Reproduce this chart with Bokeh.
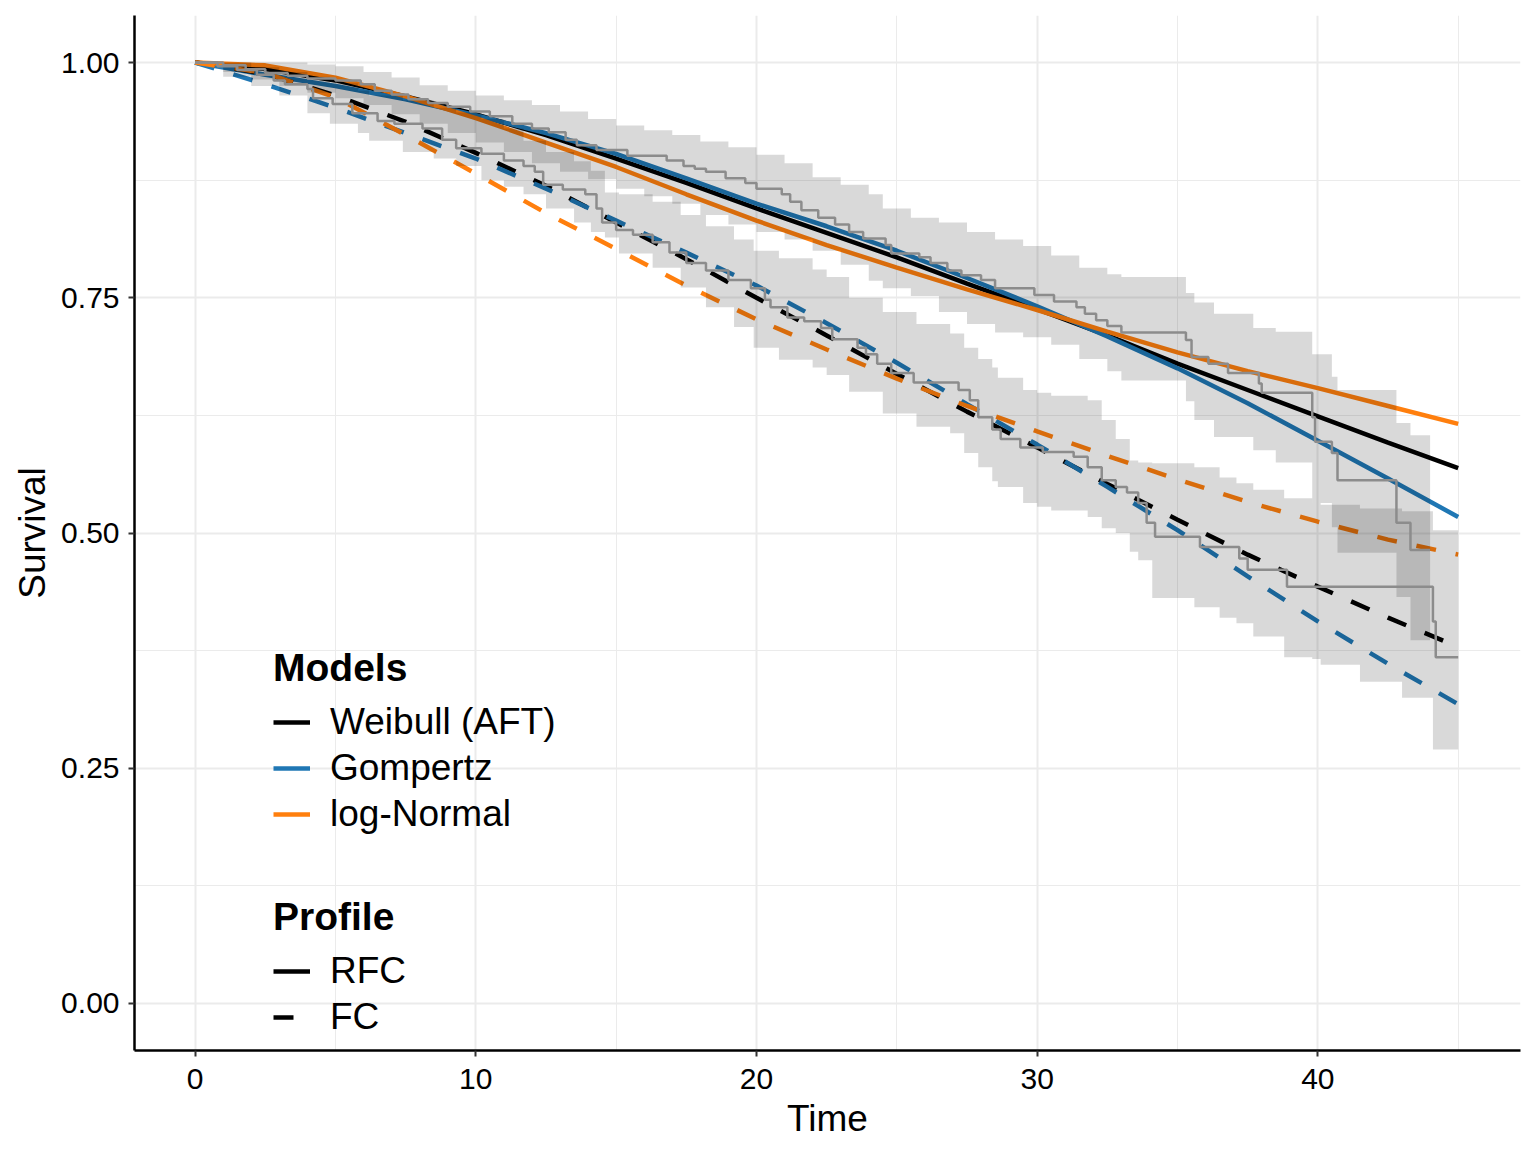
from bokeh.plotting import figure
from bokeh.models import Legend, LegendItem, FixedTicker, Range1d, PrintfTickFormatter
from bokeh.embed import file_html
from bokeh.resources import INLINE

# ---------------- data ----------------
model_time = [0, 2.5, 5, 7.5, 10, 12.5, 15, 17.5, 20, 22.5, 25, 27.5, 30, 32.5, 35, 37.5, 40, 42.5, 45]

weibull_rfc = [1.000, 0.993, 0.981, 0.964, 0.945, 0.923, 0.898, 0.872, 0.845, 0.819, 0.793, 0.765, 0.738, 0.710, 0.680, 0.652, 0.624, 0.596, 0.569]
gompertz_rfc = [1.000, 0.987, 0.975, 0.961, 0.944, 0.925, 0.903, 0.877, 0.850, 0.826, 0.800, 0.771, 0.741, 0.709, 0.675, 0.638, 0.598, 0.558, 0.517]
lognormal_rfc = [1.000, 0.997, 0.984, 0.964, 0.941, 0.915, 0.889, 0.860, 0.832, 0.806, 0.782, 0.759, 0.737, 0.714, 0.692, 0.672, 0.654, 0.635, 0.616]

weibull_fc = [1.000, 0.988, 0.965, 0.937, 0.904, 0.869, 0.830, 0.791, 0.750, 0.710, 0.669, 0.629, 0.591, 0.552, 0.514, 0.477, 0.443, 0.410, 0.379]
gompertz_fc = [1.000, 0.977, 0.952, 0.925, 0.898, 0.866, 0.832, 0.798, 0.763, 0.723, 0.681, 0.637, 0.594, 0.549, 0.503, 0.454, 0.406, 0.361, 0.318]
lognormal_fc = [1.000, 0.989, 0.963, 0.923, 0.882, 0.840, 0.802, 0.763, 0.727, 0.695, 0.664, 0.635, 0.608, 0.582, 0.557, 0.533, 0.512, 0.493, 0.477]

# Kaplan-Meier, RFC profile (step "after")
km_rfc_time = [0, 1.0, 1.8, 2.5, 3.3, 4.0, 5.0, 5.9, 6.4, 7.0, 7.6, 8.3, 9.0, 9.8, 10.5, 11.3, 12.0, 12.6,
               13.2, 13.6, 14.3, 15.4, 16.8, 17.4, 17.8, 18.2, 18.9, 19.6, 20.0, 20.9, 21.2, 21.6, 22.2,
               22.8, 23.3, 23.8, 24.6, 24.8, 25.8, 26.2, 26.8, 27.3, 28.0, 28.5, 29.9, 30.6, 31.4, 31.7,
               32.1, 32.5, 33.0, 35.3, 35.5, 36.1, 36.8, 37.9, 38.0, 39.8, 39.9, 40.5, 40.7, 42.8, 43.3, 44.0]
km_rfc_surv = [1.000, 0.997, 0.993, 0.989, 0.986, 0.983, 0.981, 0.977, 0.970, 0.966, 0.961, 0.957, 0.953, 0.948, 0.943, 0.935, 0.930, 0.926,
               0.918, 0.912, 0.907, 0.901, 0.896, 0.890, 0.887, 0.884, 0.877, 0.872, 0.866, 0.860, 0.852, 0.843, 0.835,
               0.828, 0.820, 0.813, 0.806, 0.797, 0.793, 0.787, 0.779, 0.774, 0.769, 0.760, 0.753, 0.746, 0.740, 0.733,
               0.726, 0.720, 0.713, 0.705, 0.687, 0.680, 0.670, 0.659, 0.649, 0.623, 0.597, 0.585, 0.556, 0.511, 0.482, 0.482]

# Kaplan-Meier, FC profile
km_fc_time = [0, 0.8, 1.5, 2.2, 2.8, 3.2, 4.0, 4.2, 4.9, 5.6, 6.5, 7.1, 8.1, 8.8, 9.3, 10.2, 11.0, 11.7, 12.1,
              12.4, 13.1, 13.9, 14.3, 14.5, 15.0, 15.6, 16.3, 16.9, 17.5, 18.2, 19.0, 19.8, 20.3, 20.5, 21.1,
              21.7, 22.3, 22.7, 23.6, 23.9, 24.3, 24.8, 25.6, 27.2, 27.6, 27.9, 28.4, 28.7, 29.4, 30.2, 31.3,
              31.8, 32.3, 32.8, 33.2, 33.6, 33.9, 34.2, 35.8, 37.2, 37.5, 38.9, 44.1, 44.2, 45.0]
km_fc_surv = [1.000, 0.996, 0.992, 0.987, 0.981, 0.977, 0.972, 0.962, 0.956, 0.946, 0.938, 0.935, 0.930, 0.918, 0.909, 0.903, 0.896, 0.890, 0.884,
              0.870, 0.865, 0.860, 0.845, 0.830, 0.822, 0.817, 0.809, 0.798, 0.787, 0.779, 0.769, 0.760, 0.748, 0.740, 0.729,
              0.725, 0.718, 0.706, 0.697, 0.690, 0.680, 0.670, 0.660, 0.652, 0.641, 0.623, 0.610, 0.600, 0.591, 0.586, 0.581,
              0.570, 0.556, 0.549, 0.543, 0.532, 0.511, 0.496, 0.485, 0.473, 0.461, 0.443, 0.406, 0.368, 0.368]

# Confidence bands (step "after")
ci_rfc_time = [0, 1, 2, 3, 4, 5, 6, 7, 8, 9, 10, 11, 12, 13, 14, 15, 16, 17, 18, 19, 20, 21, 22, 23, 24,
               24.5, 25.5, 26.5, 27.5, 28.5, 29.5, 30.5, 31.5, 32.5, 33.0, 35.3, 35.6, 36.3, 37.7, 38.5,
               39.8, 40.5, 40.7, 42.8, 43.3, 44.0]
ci_rfc_lower = [1.000, 0.990, 0.982, 0.975, 0.968, 0.962, 0.955, 0.945, 0.935, 0.925, 0.915, 0.905, 0.893, 0.884, 0.876, 0.866, 0.858, 0.850, 0.838, 0.828, 0.820, 0.812, 0.800, 0.785, 0.768,
                0.760, 0.752, 0.735, 0.722, 0.713, 0.708, 0.700, 0.685, 0.672, 0.662, 0.640, 0.620, 0.602, 0.588, 0.575,
                0.532, 0.506, 0.479, 0.432, 0.386, 0.386]
ci_rfc_upper = [1.000, 1.000, 1.000, 1.000, 0.998, 0.996, 0.990, 0.984, 0.976, 0.970, 0.965, 0.960, 0.955, 0.948, 0.940, 0.933, 0.928, 0.923, 0.916, 0.910, 0.902, 0.893, 0.878, 0.870, 0.860,
                0.845, 0.835, 0.830, 0.820, 0.812, 0.805, 0.795, 0.782, 0.775, 0.772, 0.755, 0.745, 0.733, 0.718, 0.714,
                0.690, 0.666, 0.652, 0.617, 0.604, 0.604]

ci_fc_time = [0, 1, 2, 3, 4, 4.8, 5.8, 6.2, 7.4, 8.5, 9.3, 10.2, 11.0, 11.7, 12.5, 13.5, 14.1, 14.6, 15.1, 16.3,
              17.3, 18.2, 19.2, 19.9, 20.8, 22.0, 22.5, 23.3, 24.5, 25.7, 26.9, 27.4, 27.9, 28.4, 28.6, 29.5,
              30.0, 30.5, 31.8, 32.3, 32.8, 33.3, 33.6, 34.1, 35.6, 36.5, 37.1, 37.7, 38.8, 39.8, 40.1, 41.5,
              43.0, 44.1, 45.0]
ci_fc_lower = [1.000, 0.985, 0.975, 0.965, 0.946, 0.935, 0.925, 0.917, 0.905, 0.898, 0.890, 0.875, 0.868, 0.860, 0.845, 0.830, 0.820, 0.814, 0.797, 0.782,
               0.761, 0.740, 0.719, 0.697, 0.684, 0.676, 0.668, 0.650, 0.627, 0.613, 0.606, 0.585, 0.570, 0.555, 0.549, 0.532,
               0.528, 0.524, 0.517, 0.505, 0.500, 0.480, 0.471, 0.431, 0.421, 0.410, 0.404, 0.390, 0.368, 0.366, 0.360, 0.342,
               0.325, 0.270, 0.270]
ci_fc_upper = [1.000, 1.000, 0.995, 0.990, 0.985, 0.978, 0.970, 0.965, 0.960, 0.952, 0.947, 0.940, 0.930, 0.917, 0.905, 0.895, 0.885, 0.862, 0.860, 0.852,
               0.838, 0.826, 0.812, 0.800, 0.792, 0.780, 0.772, 0.750, 0.735, 0.722, 0.712, 0.697, 0.685, 0.676, 0.665, 0.652,
               0.649, 0.646, 0.641, 0.620, 0.600, 0.577, 0.575, 0.574, 0.570, 0.559, 0.553, 0.546, 0.537, 0.532, 0.530, 0.526,
               0.523, 0.503, 0.503]

x_ticks = [0, 10, 20, 30, 40]
x_minor = [5, 15, 25, 35, 45]
y_ticks = [0.0, 0.25, 0.5, 0.75, 1.0]
y_minor = [0.125, 0.375, 0.625, 0.875]

BLACK = "#000000"
BLUE = "#1F77B4"
ORANGE = "#FF7F0E"
FONT = "Liberation Sans"

# ---------------- figure ----------------
p = figure(width=1528, height=1144,
           x_range=Range1d(-2.16, 47.22), y_range=Range1d(-0.05, 1.05),
           output_backend="svg", toolbar_location=None,
           min_border_left=134, min_border_right=8, min_border_top=15, min_border_bottom=94,
           x_axis_label="Time", y_axis_label="Survival")
p.outline_line_color = None
p.background_fill_color = "white"
p.border_fill_color = "white"

xt = FixedTicker(ticks=x_ticks, minor_ticks=x_minor)
yt = FixedTicker(ticks=y_ticks, minor_ticks=y_minor)
p.xaxis.ticker = xt
p.yaxis.ticker = yt
p.xgrid.ticker = xt
p.ygrid.ticker = yt
p.yaxis.formatter = PrintfTickFormatter(format="%.2f")

for g in (p.xgrid, p.ygrid):
    g.grid_line_color = "#EBEBEB"
    g.grid_line_width = 2
    g.minor_grid_line_color = "#EBEBEB"
    g.minor_grid_line_width = 1

for ax in (p.xaxis[0], p.yaxis[0]):
    ax.axis_line_color = "black"
    ax.axis_line_width = 2.5
    ax.major_tick_line_color = "#333333"
    ax.major_tick_line_width = 2
    ax.major_tick_out = 6
    ax.major_tick_in = 0
    ax.minor_tick_line_color = None
    ax.major_label_text_font = FONT
    ax.major_label_text_font_size = "30px"
    ax.major_label_text_color = "black"
    ax.axis_label_text_font = FONT
    ax.axis_label_text_font_size = "37px"
    ax.axis_label_text_font_style = "normal"
    ax.axis_label_text_color = "black"
p.yaxis.major_label_standoff = 9
p.xaxis.major_label_standoff = 12
p.yaxis.axis_label_standoff = 5
p.xaxis.axis_label_standoff = 6

LW = 4.5
DASH = "20 20"
# parametric model curves (drawn first, bands go over them)
r_w_rfc = p.line(model_time, weibull_rfc, line_color=BLACK, line_width=LW)
r_g_rfc = p.line(model_time, gompertz_rfc, line_color=BLUE, line_width=LW)
r_l_rfc = p.line(model_time, lognormal_rfc, line_color=ORANGE, line_width=LW)
r_w_fc = p.line(model_time, weibull_fc, line_color=BLACK, line_width=LW, line_dash=DASH)
r_g_fc = p.line(model_time, gompertz_fc, line_color=BLUE, line_width=LW, line_dash=DASH)
r_l_fc = p.line(model_time, lognormal_fc, line_color=ORANGE, line_width=LW, line_dash=DASH)

# confidence bands
p.varea_step(x=ci_rfc_time, y1=ci_rfc_lower, y2=ci_rfc_upper, step_mode="after",
             fill_color="#000000", fill_alpha=0.15)
p.varea_step(x=ci_fc_time, y1=ci_fc_lower, y2=ci_fc_upper, step_mode="after",
             fill_color="#000000", fill_alpha=0.15)

# Kaplan-Meier steps
p.step(km_rfc_time, km_rfc_surv, mode="after", line_color="#8C8C8C", line_width=2.5)
p.step(km_fc_time, km_fc_surv, mode="after", line_color="#8C8C8C", line_width=2.5)

def make_legend(title, items, loc):
    lg = Legend(items=items, title=title, location=loc)
    lg.title_text_font = FONT
    lg.title_text_font_size = "39px"
    lg.title_text_font_style = "bold"
    lg.title_text_color = "black"
    lg.title_standoff = 9
    lg.label_text_font = FONT
    lg.label_text_font_size = "37px"
    lg.label_text_color = "black"
    lg.glyph_width = 37
    lg.glyph_height = 46
    lg.label_height = 46
    lg.spacing = 0
    lg.label_standoff = 20
    lg.padding = 0
    lg.margin = 0
    lg.border_line_color = None
    lg.background_fill_alpha = 0
    return lg

leg_models = make_legend("Models", [
    LegendItem(label="Weibull (AFT)", renderers=[r_w_rfc]),
    LegendItem(label="Gompertz", renderers=[r_g_rfc]),
    LegendItem(label="log-Normal", renderers=[r_l_rfc]),
], (139, 213))
leg_profile = make_legend("Profile", [
    LegendItem(label="RFC", renderers=[r_w_rfc]),
    LegendItem(label="FC", renderers=[r_w_fc]),
], (139, 10))
p.add_layout(leg_models)
p.add_layout(leg_profile)

open("out.html", "w").write(file_html(p, INLINE))
